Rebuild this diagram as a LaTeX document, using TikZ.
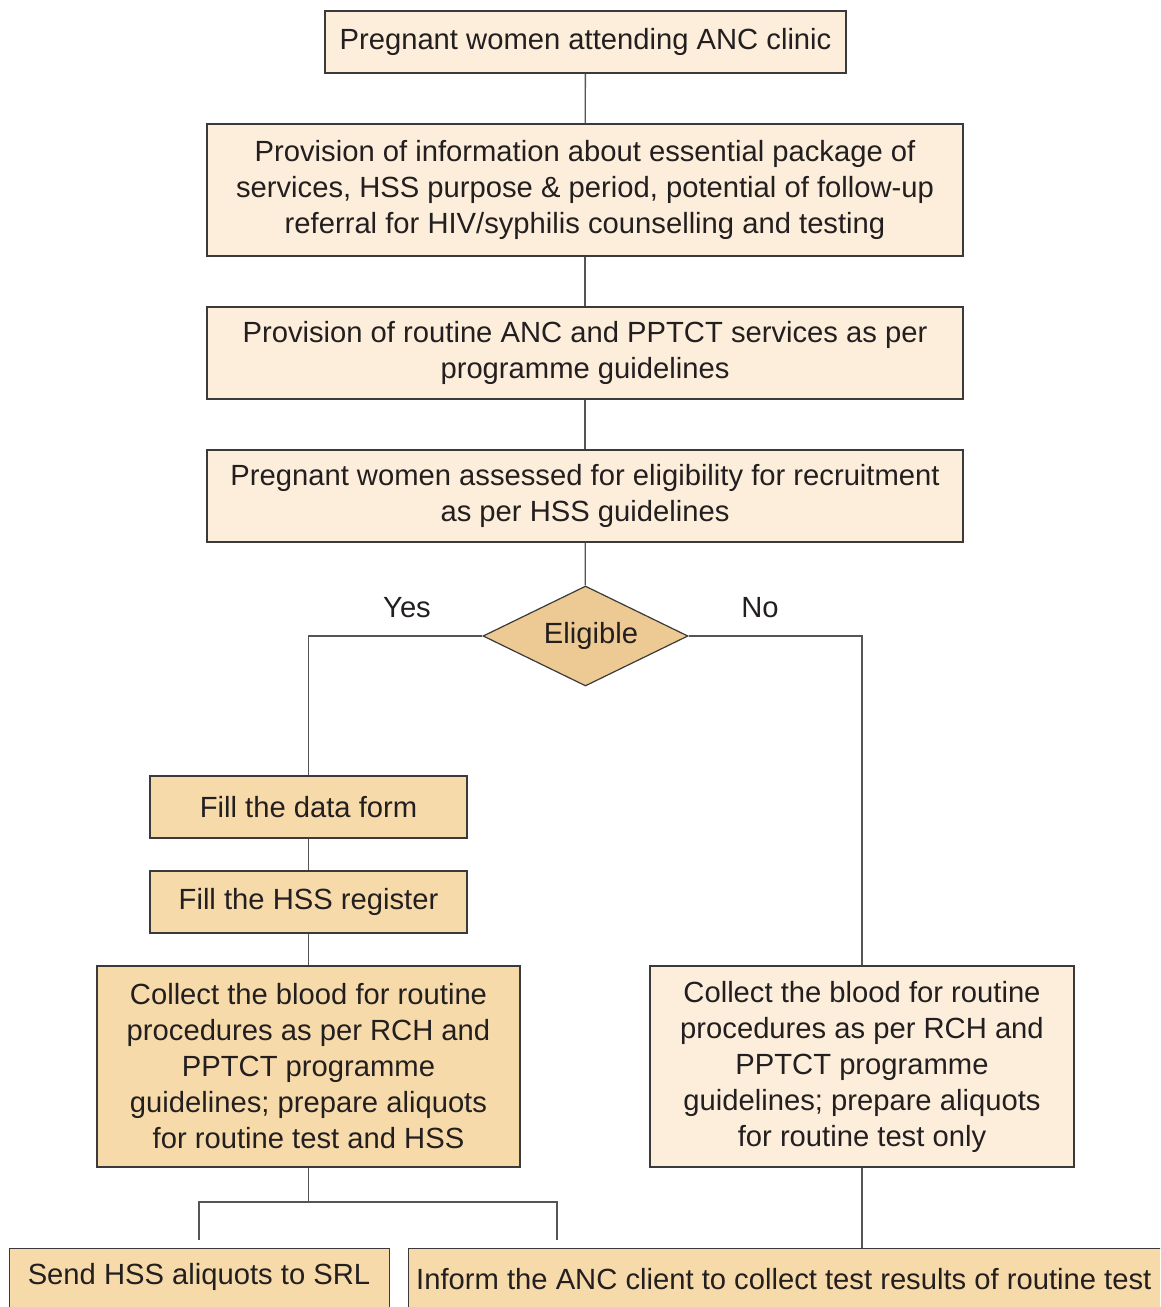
\documentclass[tikz,border=0pt]{standalone}
\usepackage{fontspec}
\setmainfont{Liberation Sans}
\usetikzlibrary{shapes.geometric}
\definecolor{lightfill}{HTML}{FCEEDA}
\definecolor{darkfill}{HTML}{F7DAA9}
\definecolor{diafill}{HTML}{EDCA93}
\definecolor{txt}{HTML}{231F20}
\definecolor{edge}{HTML}{3A3A3A}
\definecolor{conn}{HTML}{555555}
\begin{document}
\begin{tikzpicture}[x=1pt,y=-1pt,
  box/.style={draw=edge, line width=1.2pt, rectangle, inner sep=0pt, align=center, text=txt, font=\fontsize{29.2}{36}\selectfont},
  lbox/.style={box, fill=lightfill},
  dbox/.style={box, fill=darkfill},
  conline/.style={draw=conn, line width=1.3pt},
  lab/.style={text=txt, font=\fontsize{29.2}{36}\selectfont, inner sep=0pt}]
\useasboundingbox (0,0) rectangle (1160,1307);
\clip (0,0) rectangle (1160,1307);
\node[lbox, minimum width=521pt, minimum height=62pt] (n1) at (585.5,42) {Pregnant women attending ANC clinic};
\node[lbox, minimum width=756pt, minimum height=132pt] (n2) at (585,190) {Provision of information about essential package of\\services, HSS purpose \& period, potential of follow-up\\referral for HIV/syphilis counselling and testing};
\node[lbox, minimum width=756pt, minimum height=92pt] (n3) at (585,353) {Provision of routine ANC and PPTCT services as per\\programme guidelines};
\node[lbox, minimum width=756pt, minimum height=92pt] (n4) at (585,496) {Pregnant women assessed for eligibility for recruitment\\as per HSS guidelines};
\node[diamond, aspect=2, draw=edge, line width=1.2pt, fill=diafill, inner sep=0pt, minimum width=205pt, minimum height=100pt] (d) at (585.5,636) {};
\node[lab] (dt) at (591,636) {Eligible};
\node[dbox, minimum width=317pt, minimum height=62pt] (f1) at (308.5,807) {Fill the data form};
\node[dbox, minimum width=317pt, minimum height=62pt] (f2) at (308.5,902) {Fill the HSS register};
\node[dbox, minimum width=423pt, minimum height=201pt] (cl) at (308.5,1066.5) {Collect the blood for routine\\procedures as per RCH and\\PPTCT programme\\guidelines; prepare aliquots\\for routine test and HSS};
\node[lbox, minimum width=424pt, minimum height=201pt] (cr) at (862,1066.5) {Collect the blood for routine\\procedures as per RCH and\\PPTCT programme\\guidelines; prepare aliquots\\for routine test only};
\node[dbox, minimum width=380pt, minimum height=100pt, anchor=north west] (s1) at (9,1248) {};
\node[lab] (s1t) at (199,1277) {Send HSS aliquots to SRL};
\node[dbox, minimum width=780pt, minimum height=100pt, anchor=north west] (s2) at (408,1248) {};
\node[lab, anchor=west] (s2t) at (416,1279) {Inform the ANC client to collect test results of routine test};
\node[lab] (yes) at (407,608) {Yes};
\node[lab] (no) at (760,608) {No};
\coordinate (ly) at (308.5,636);
\coordinate (ry) at (862,636);
\coordinate (bj) at (308.5,1202);
\coordinate (bl) at (199,1202);
\coordinate (br) at (557,1202);
\coordinate (ble) at (199,1240);
\coordinate (bre) at (557,1240);
\draw[conline] (n1) -- (n2);
\draw[conline] (n2) -- (n3);
\draw[conline] (n3) -- (n4);
\draw[conline] (n4) -- (d);
\draw[conline] (d.west) -- (ly) -- (f1.north);
\draw[conline] (d.east) -- (ry) -- (cr.north);
\draw[conline] (f1) -- (f2);
\draw[conline] (f2) -- (cl.north);
\draw[conline] (cl.south) -- (bj);
\draw[conline] (ble) -- (bl) -- (br) -- (bre);
\draw[conline] (cr.south) -- (cr.south |- s2.north);
\end{tikzpicture}
\end{document}
